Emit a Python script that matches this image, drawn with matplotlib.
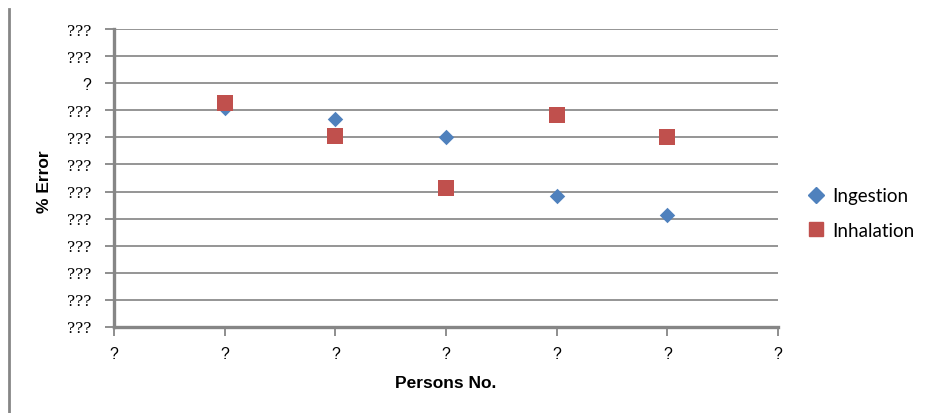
import matplotlib
matplotlib.use("Agg")
import matplotlib.pyplot as plt
from matplotlib.lines import Line2D

# data (y in tick units, 0 = bottom gridline)
persons = [1, 2, 3, 4, 5]
ingestion = [8.08, 7.69, 7.00, 4.84, 4.13]
inhalation = [8.28, 7.06, 5.14, 7.81, 7.00]

# garbled tick labels as shown in the original
x_ticks = [0, 1, 2, 3, 4, 5, 6]
x_labels = ['?'] * 7
y_ticks = list(range(12))
y_labels = ['???'] * 12
y_labels[9] = '?'

blue = '#4F81BD'
red = '#C0504D'
grid_col = '#8C8C8C'
axis_col = '#868686'

fig = plt.figure(figsize=(9.3, 4.14), dpi=100)
ax = fig.add_axes([114 / 930, 1 - 328 / 414, (778 - 114) / 930, (328 - 30) / 414])

ax.scatter(persons, ingestion, marker='D', s=62, color=blue, zorder=3,
           label='Ingestion', linewidths=0)
ax.scatter(persons, inhalation, marker='s', s=130, color=red, zorder=4,
           label='Inhalation', linewidths=0)

ax.set_xlim(0, 6)
ax.set_ylim(0, 11)
ax.set_xticks(x_ticks)
ax.set_xticklabels(x_labels, fontsize=11.5, family='Liberation Sans')
ax.set_yticks(y_ticks)
ax.set_yticklabels(y_labels, fontsize=11, family='DejaVu Serif')
for lab in ax.get_yticklabels():
    if lab.get_text() == '?':
        lab.set_family('Liberation Sans')
        lab.set_fontsize(11.5)

ax.grid(axis='y', color=grid_col, linewidth=1.3)
ax.set_axisbelow(True)
for side in ['top', 'right']:
    ax.spines[side].set_visible(False)
for side in ['left', 'bottom']:
    ax.spines[side].set_color(axis_col)
    ax.spines[side].set_linewidth(2.4)
ax.tick_params(axis='both', color=axis_col, width=1.3, length=6.5, direction='out')
ax.tick_params(axis='y', pad=10)
ax.tick_params(axis='x', pad=7)

ax.set_xlabel('Persons No.', fontsize=12.5, fontweight='bold', family='Liberation Sans')
ax.xaxis.set_label_coords(0.5, (328 - 376) / 298)
ax.set_ylabel('% Error', fontsize=12.5, fontweight='bold', family='Liberation Sans')
ax.yaxis.set_label_coords((52 - 114) / 664, (328 - 182) / 298)

handles = [
    Line2D([], [], marker='D', color=blue, linestyle='none', markersize=8),
    Line2D([], [], marker='s', color=red, linestyle='none', markersize=10),
]
fig.legend(handles, ['Ingestion', 'Inhalation'], loc='center left',
           bbox_to_anchor=(785 / 930, 1 - 214 / 414), frameon=False,
           prop={'family': 'Lato', 'size': 13.5},
           handletextpad=0.1, labelspacing=0.95, handlelength=1.5)

fig.add_artist(Line2D([9 / 930, 9 / 930], [0, 1 - 10 / 414], color=axis_col,
                      linewidth=2, transform=fig.transFigure))

fig.savefig('out.png', dpi=100)
